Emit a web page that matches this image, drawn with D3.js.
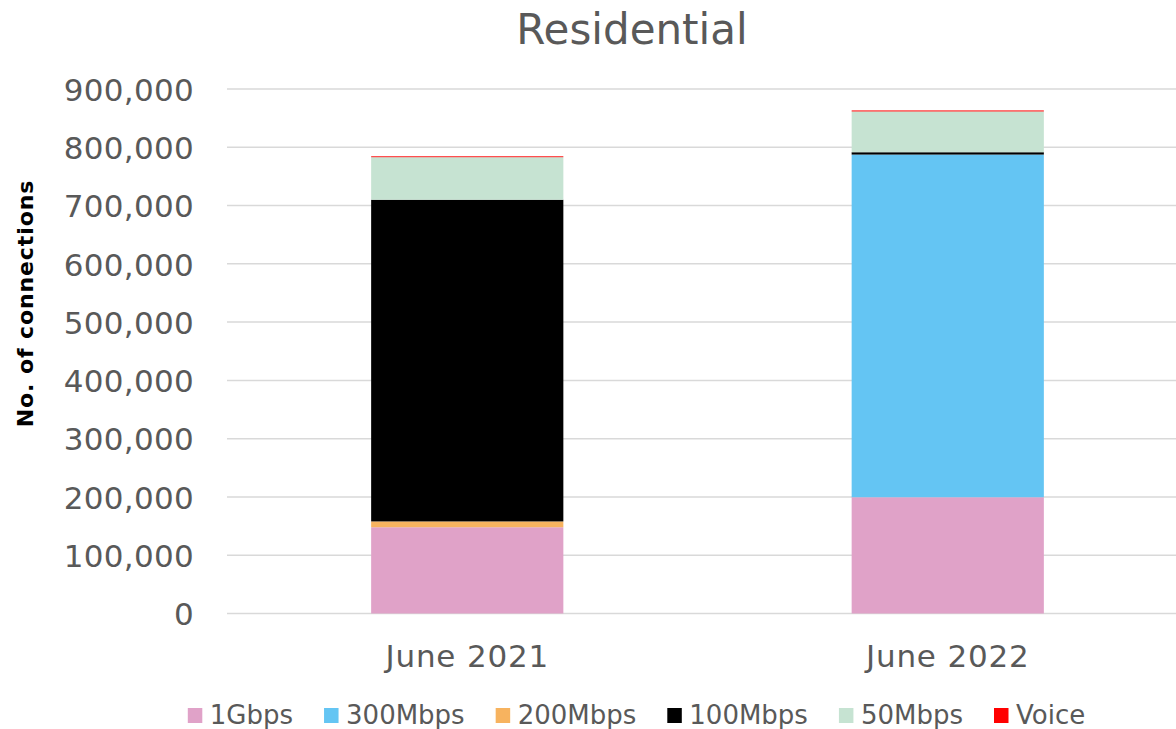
<!DOCTYPE html>
<html>
<head>
<meta charset="utf-8">
<script src="https://cdn.jsdelivr.net/npm/d3@7"></script>
<style>
  html, body { margin: 0; padding: 0; background: #fff; }
  svg { display: block; font-family: "DejaVu Sans", Verdana, sans-serif; }
</style>
</head>
<body>
<svg id="chart" width="1176" height="729"></svg>
<script>
// Residential connections by speed tier
const categories = ["June 2021", "June 2022"];
const seriesNames = ["1Gbps", "300Mbps", "200Mbps", "100Mbps", "50Mbps", "Voice"];
const seriesColors = ["#E0A2C8", "#64C5F3", "#F7B35F", "#000000", "#C6E3D2", "#FF0000"];
const gbps1 = [148000, 199500];
const mbps300 = [0, 588000];
const mbps200 = [10000, 0];
const mbps100 = [552000, 4000];
const mbps50 = [73000, 70000];
const voice = [1500, 1700];
const yTicks = [0, 100000, 200000, 300000, 400000, 500000, 600000, 700000, 800000, 900000];

const seriesValues = [gbps1, mbps300, mbps200, mbps100, mbps50, voice];
const rows = categories.map((c, i) => {
  const r = { category: c };
  seriesNames.forEach((s, j) => { r[s] = seriesValues[j][i]; });
  return r;
});

const svg = d3.select("#chart");
const margin = { left: 227, right: -12, top: 89, bottom: 729 - 613.5 };
const W = 1176, H = 729;
const FONT = "DejaVu Sans, Verdana, sans-serif";

const x = d3.scaleBand().domain(categories)
  .range([margin.left, W - margin.right]).paddingInner(0.6).paddingOuter(0.3);
const y = d3.scaleLinear().domain([0, 900000]).range([H - margin.bottom, margin.top]);

// gridlines
svg.append("g").selectAll("line").data(yTicks).join("line")
  .attr("x1", margin.left).attr("x2", W)
  .attr("y1", d => y(d)).attr("y2", d => y(d))
  .attr("stroke", "#d9d9d9").attr("stroke-width", 1.5);

// y axis labels
const yAxis = d3.axisLeft(y).tickValues(yTicks).tickFormat(d3.format(",")).tickSize(0).tickPadding(0);
const yg = svg.append("g").attr("transform", `translate(${194},0)`).call(yAxis);
yg.select(".domain").remove();
yg.selectAll("text").attr("fill", "#595959").attr("font-size", 31)
  .attr("font-family", FONT).attr("dy", "0.36em").attr("letter-spacing", 0.3);

// stacked bars
const stack = d3.stack().keys(seriesNames);
const layers = stack(rows);
svg.append("g").selectAll("g").data(layers).join("g")
  .attr("fill", (d, i) => seriesColors[i])
  .selectAll("rect").data(d => d).join("rect")
  .attr("x", d => x(d.data.category))
  .attr("width", x.bandwidth())
  .attr("y", d => y(d[1]))
  .attr("height", d => Math.max(0, y(d[0]) - y(d[1])));

// x axis labels
const xAxis = d3.axisBottom(x).tickSize(0).tickPadding(0);
const xg = svg.append("g").attr("transform", `translate(0,${667})`).call(xAxis);
xg.select(".domain").remove();
xg.selectAll("text").attr("fill", "#595959").attr("font-size", 31)
  .attr("font-family", FONT).attr("dy", 0).attr("y", 0).attr("letter-spacing", 0.8);

// title
svg.append("text").attr("x", 632).attr("y", 43.5).attr("text-anchor", "middle")
  .attr("fill", "#595959").attr("font-size", 42).text("Residential");

// y axis title
svg.append("text").attr("transform", `translate(33,${303.5}) rotate(-90)`)
  .attr("text-anchor", "middle").attr("font-weight", "bold")
  .attr("font-size", 22).attr("letter-spacing", 0.9).attr("fill", "#000")
  .text("No. of connections");

// legend
const legend = svg.append("g");
const items = legend.selectAll("g").data(seriesNames).join("g");
items.append("rect").attr("width", 14.5).attr("height", 15).attr("y", -16)
  .attr("fill", (d, i) => seriesColors[i]);
items.append("text").attr("x", 22).attr("y", 0).attr("font-size", 26)
  .attr("fill", "#595959").text(d => d);
let cx = 0;
const gap = 31;
items.each(function () {
  const w = 22 + this.querySelector("text").getComputedTextLength();
  d3.select(this).attr("transform", `translate(${cx},0)`);
  cx += w + gap;
});
const total = cx - gap;
legend.attr("transform", `translate(${636.5 - total / 2},${724})`);
</script>
</body>
</html>
